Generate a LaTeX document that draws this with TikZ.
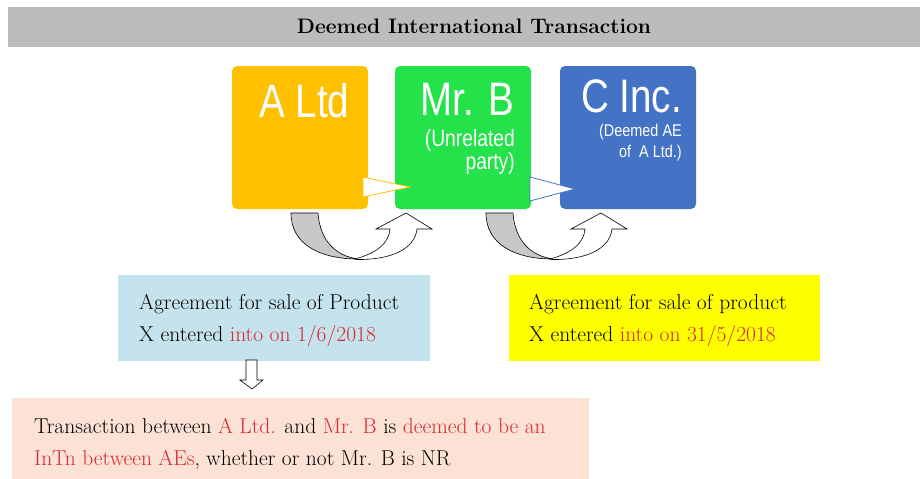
\documentclass[tikz,border=0pt]{standalone}
\usepackage{fontspec}
\newfontfamily\arialf{Liberation Sans}
\definecolor{titlegray}{HTML}{BCBCBE}
\definecolor{aorange}{HTML}{FFC000}
\definecolor{bgreen}{HTML}{23E24A}
\definecolor{cblue}{HTML}{4472C4}
\definecolor{lblue}{HTML}{C5E3EC}
\definecolor{yel}{HTML}{FFFF00}
\definecolor{peach}{HTML}{FCE2D4}
\definecolor{redtxt}{HTML}{D62A33}
\definecolor{bandgray}{HTML}{C8C8C8}
\begin{document}
\begin{tikzpicture}[x=1pt,y=-1pt,
  bodytxt/.style={font=\fontsize{21.5}{32}\selectfont,anchor=base west,inner sep=0pt,text=black},
  bigname/.style={text=white,font=\arialf\fontsize{47}{47}\selectfont,inner sep=0pt,anchor=base east},
  subname/.style={text=white,font=\arialf\fontsize{23.5}{23}\selectfont,inner sep=0pt,anchor=base east},
  smallsub/.style={text=white,font=\arialf\fontsize{17}{21}\selectfont,inner sep=0pt,anchor=base east},
  blockarrow/.style={draw=black,line width=0.6pt,line join=miter}
]
\useasboundingbox (0,0) rectangle (924,479);
% title
\fill[titlegray] (8,7) rectangle (920,47);
\node[font=\bfseries\fontsize{21}{24}\selectfont,anchor=base,inner sep=0pt] (title) at (474,34) {Deemed International Transaction};
% entity boxes
\fill[aorange,rounded corners=5pt] (232,66) rectangle (368,209);
\fill[bgreen,rounded corners=5pt] (395,66) rectangle (531,209);
\fill[cblue,rounded corners=5pt] (560,66) rectangle (696,209);
\node[bigname,anchor=base west] (aname) at (259,117) {\scalebox{0.82}[1]{A Ltd}};
\node[bigname] (bname) at (514,115) {\scalebox{0.82}[1]{Mr. B}};
\node[subname] (bsub1) at (515,146) {\scalebox{0.82}[1]{(Unrelated}};
\node[subname] (bsub2) at (515,169) {\scalebox{0.82}[1]{party)}};
\node[bigname] (cname) at (682,112) {\scalebox{0.82}[1]{C Inc.}};
\node[smallsub] (csub1) at (682,136) {\scalebox{0.85}[1]{(Deemed AE}};
\node[smallsub] (csub2) at (682,157) {\scalebox{0.85}[1]{of~~A Ltd.)}};
% small triangles
\filldraw[fill=white,draw=aorange,line width=0.8pt] (363,177) -- (410,187) -- (363,197) -- cycle;
\filldraw[fill=white,draw=cblue,line width=0.8pt] (530,177) -- (575,189) -- (530,201) -- cycle;
% curved arrows
\foreach \ox in {291,486}{
  \begin{scope}[shift={(\ox,213)}]
    \filldraw[fill=bandgray,draw=black,line width=0.6pt]
      (0,0) -- (27,0) .. controls (29,28) and (45,43) .. (67,46)
      .. controls (30,46) and (0,32) .. (0,0) -- cycle;
    \filldraw[fill=white,draw=black,line width=0.6pt]
      (64,46) .. controls (86,40) and (98,30) .. (99,16) -- (85,16) -- (115,0) -- (141,16) -- (126,16)
      .. controls (124,36) and (100,47) .. (66,46.5) -- cycle;
  \end{scope}
}
% info boxes
\fill[lblue] (118,275) rectangle (430,361);
\node[bodytxt] (agr1a) at (139,309) {Agreement for sale of Product};
\node[bodytxt] (agr1b) at (139,341) {X entered \textcolor{redtxt}{into on 1/6/2018}};
\fill[yel] (509,275) rectangle (820,361);
\node[bodytxt] (agr2a) at (529,309) {Agreement for sale of product};
\node[bodytxt] (agr2b) at (529,341) {X entered \textcolor{redtxt}{into on 31/5/2018}};
% down arrow
\filldraw[fill=white,blockarrow] (246,360) -- (257,360) -- (257,380) -- (263,380) -- (252,389) -- (240,380) -- (246,380) -- cycle;
% bottom box
\fill[peach] (12,398) rectangle (589,479);
\node[bodytxt] (concl1) at (34,433) {Transaction between \textcolor{redtxt}{A Ltd.} and \textcolor{redtxt}{Mr. B} is \textcolor{redtxt}{deemed to be an}};
\node[bodytxt] (concl2) at (34,465) {\textcolor{redtxt}{InTn between AEs}, whether or not Mr. B is NR};
\end{tikzpicture}
\end{document}
